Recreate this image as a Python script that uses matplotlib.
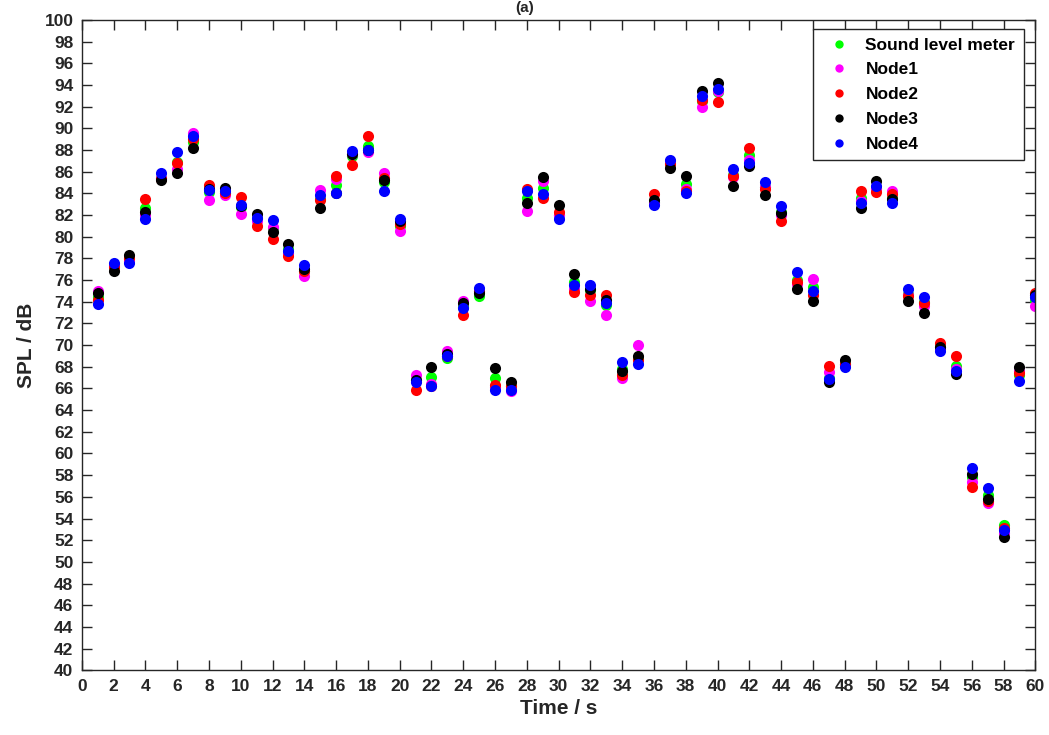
import matplotlib
matplotlib.use('Agg')
import matplotlib.pyplot as plt
import numpy as np

plt.rcParams['font.family'] = ['Liberation Sans', 'DejaVu Sans']
plt.rcParams['font.weight'] = 'bold'

# Données
temps = list(range(1, 61))

sonometre = [74.4, 77.3, 77.9, 82.6, 85.4, 86.9, 88.7, 84.1, 84.0, 82.7, 81.6, 80.8, 78.9, 76.8, 83.5,
             84.8, 87.4, 88.4, 85.0, 81.0, 66.8, 67.1, 68.8, 73.5, 74.5, 67.0, 66.2, 83.6, 84.5, 82.0,
             75.8, 75.1, 73.7, 67.8, 68.7, 83.2, 86.8, 84.9, 92.5, 93.3, 85.7, 87.5, 84.6, 82.3, 76.0,
             75.4, 67.0, 68.3, 83.6, 84.5, 83.6, 74.7, 74.0, 69.8, 68.1, 57.8, 56.2, 53.4, 67.2, 74.2]

node1 = [75.0, 77.4, 77.8, 82.0, 85.4, 86.2, 89.6, 83.4, 83.8, 82.1, 81.4, 80.9, 78.5, 76.4, 84.3,
         85.3, 87.6, 87.8, 85.9, 80.5, 67.2, 66.4, 69.5, 74.1, 75.0, 66.1, 65.8, 82.4, 85.1, 82.0,
         75.2, 74.1, 72.8, 67.0, 70.0, 83.1, 87.0, 84.4, 92.0, 93.4, 85.5, 87.1, 84.6, 82.0, 75.6,
         76.1, 67.5, 68.2, 83.3, 84.4, 84.2, 74.6, 73.6, 69.6, 67.8, 57.4, 55.4, 52.7, 67.6, 73.6]

node2 = [74.2, 77.2, 78.0, 83.5, 85.3, 86.8, 89.0, 84.8, 84.0, 83.7, 81.0, 79.8, 78.2, 76.8, 83.4,
         85.6, 86.6, 89.3, 85.4, 81.2, 65.9, 66.2, 69.0, 72.8, 75.0, 66.3, 66.2, 84.4, 83.6, 82.3,
         74.9, 74.6, 74.6, 67.2, 68.6, 83.9, 86.7, 84.2, 92.6, 92.4, 85.6, 88.2, 84.4, 81.4, 75.8,
         74.6, 68.1, 68.3, 84.2, 84.1, 83.9, 74.5, 73.9, 70.2, 69.0, 56.9, 55.6, 53.1, 67.4, 74.8]

node3 = [74.8, 76.8, 78.3, 82.3, 85.2, 85.9, 88.2, 84.4, 84.5, 82.8, 82.1, 80.4, 79.3, 77.0, 82.6,
         84.0, 87.6, 88.0, 85.2, 81.4, 66.8, 68.0, 69.2, 73.9, 74.8, 67.9, 66.6, 83.1, 85.5, 82.9,
         76.6, 75.2, 74.2, 67.6, 69.0, 83.4, 86.3, 85.6, 93.4, 94.2, 84.7, 86.5, 83.8, 82.2, 75.2,
         74.1, 66.6, 68.6, 82.6, 85.1, 83.5, 74.1, 73.0, 69.8, 67.3, 58.1, 55.8, 52.3, 68.0, 74.6]

node4 = [73.8, 77.6, 77.6, 81.6, 85.9, 87.8, 89.3, 84.3, 84.2, 82.9, 81.7, 81.5, 78.7, 77.4, 83.8,
         84.0, 87.9, 88.0, 84.2, 81.6, 66.6, 66.2, 69.0, 73.4, 75.3, 65.9, 65.9, 84.2, 83.9, 81.6,
         75.5, 75.5, 73.9, 68.4, 68.3, 82.9, 87.1, 84.0, 93.0, 93.6, 86.2, 86.8, 85.0, 82.8, 76.7,
         75.0, 66.9, 68.0, 83.1, 84.7, 83.1, 75.2, 74.4, 69.5, 67.6, 58.7, 56.8, 52.9, 66.7, 74.4]

series = [
    ('Sound level meter', sonometre, '#00ff00'),
    ('Node1', node1, '#ff00ff'),
    ('Node2', node2, '#ff0000'),
    ('Node3', node3, '#000000'),
    ('Node4', node4, '#0000ff'),
]

# Création graphique
fig = plt.figure(figsize=(10.49, 7.35), dpi=100)
ax = fig.add_axes([0.078, 0.088, 0.909, 0.885])

for nom, valeurs, couleur in series:
    ax.plot(temps, valeurs, linestyle='None', marker='o', markersize=8,
            markeredgewidth=0, color=couleur, label=nom)

ax.set_xlim(0, 60)
ax.set_ylim(40, 100)
ax.set_xticks(np.arange(0, 61, 2))
ax.set_yticks(np.arange(40, 101, 2))

gris = '#262626'
for s in ax.spines.values():
    s.set_color(gris)
    s.set_linewidth(1.0)
ax.tick_params(direction='in', length=7, width=1, top=True, right=True,
               colors=gris, labelsize=12.5, pad=6)
for lab in ax.get_xticklabels() + ax.get_yticklabels():
    lab.set_fontweight('bold')

ax.set_xlabel('Time / s', fontsize=15, fontweight='bold', color=gris, labelpad=4)
ax.set_ylabel('SPL / dB', fontsize=15, fontweight='bold', color=gris, labelpad=6)

# Titre en haut (coupé dans l'original, laissé visible ici)
fig.text(0.5, 0.999, '(a)', ha='center', va='top', fontsize=11, fontweight='bold', color=gris)

# Légende
leg = ax.legend(loc='upper right', bbox_to_anchor=(0.988, 0.986), fontsize=12.5,
                markerscale=0.75, fancybox=False, framealpha=1, edgecolor=gris,
                borderpad=0.5, labelspacing=0.55, handletextpad=0.55, borderaxespad=0)
leg.get_frame().set_linewidth(1.0)
for txt in leg.get_texts():
    txt.set_fontweight('bold')

plt.savefig('out.png', dpi=100)
plt.close()
